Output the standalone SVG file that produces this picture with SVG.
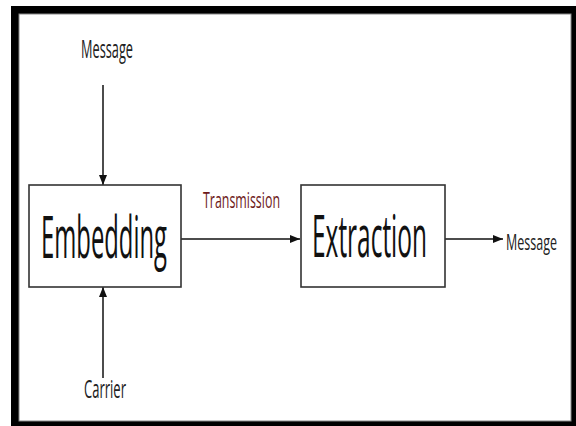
<svg xmlns="http://www.w3.org/2000/svg" width="576" height="426" viewBox="0 0 576 426">
<style>
.box{fill:#fff;stroke:#333;stroke-width:1.6}
.big{font-family:"Open Sans","Liberation Sans",sans-serif;font-size:58px;fill:#111}
.lbl{font-family:"Open Sans","Liberation Sans",sans-serif;fill:#222}
.conn{stroke:#111;stroke-width:1.5;fill:none}
</style>
<defs>
<marker id="ah" markerWidth="10" markerHeight="8" refX="10" refY="4" orient="auto" markerUnits="userSpaceOnUse">
<path d="M0,0 L10,4 L0,8 Z" fill="#111"/>
</marker>
</defs>
<rect x="0" y="0" width="576" height="426" fill="#fff"/>
<rect x="11" y="6" width="565" height="420" fill="#000"/>
<rect x="19" y="14" width="552" height="407" fill="#fff" stroke="#888" stroke-width="1"/>
<g id="connectors">
<line class="conn" x1="103" y1="85" x2="103" y2="185" marker-end="url(#ah)"/>
<line class="conn" x1="103" y1="378" x2="103" y2="287" marker-end="url(#ah)"/>
<line class="conn" x1="181" y1="239" x2="300" y2="239" marker-end="url(#ah)"/>
<line class="conn" x1="445" y1="239" x2="503" y2="239" marker-end="url(#ah)"/>
</g>
<g id="embedding">
<rect class="box" x="29" y="185" width="152" height="102"/>
<text class="big" x="41" y="258" textLength="126" lengthAdjust="spacingAndGlyphs">Embedding</text>
</g>
<g id="extraction">
<rect class="box" x="301" y="185" width="144" height="102"/>
<text class="big" x="312" y="257" textLength="115" lengthAdjust="spacingAndGlyphs">Extraction</text>
</g>
<g id="message-in">
<text class="lbl" x="81" y="58" font-size="25" textLength="52" lengthAdjust="spacingAndGlyphs">Message</text>
</g>
<g id="carrier">
<text class="lbl" x="84" y="398" font-size="25" textLength="42" lengthAdjust="spacingAndGlyphs">Carrier</text>
</g>
<g id="transmission">
<text class="lbl" x="203" y="208" font-size="21" fill="#6e1a1a" style="fill:#6e1a1a" textLength="77" lengthAdjust="spacingAndGlyphs">Transmission</text>
</g>
<g id="message-out">
<text class="lbl" x="506" y="250" font-size="21" textLength="51" lengthAdjust="spacingAndGlyphs">Message</text>
</g>
</svg>
